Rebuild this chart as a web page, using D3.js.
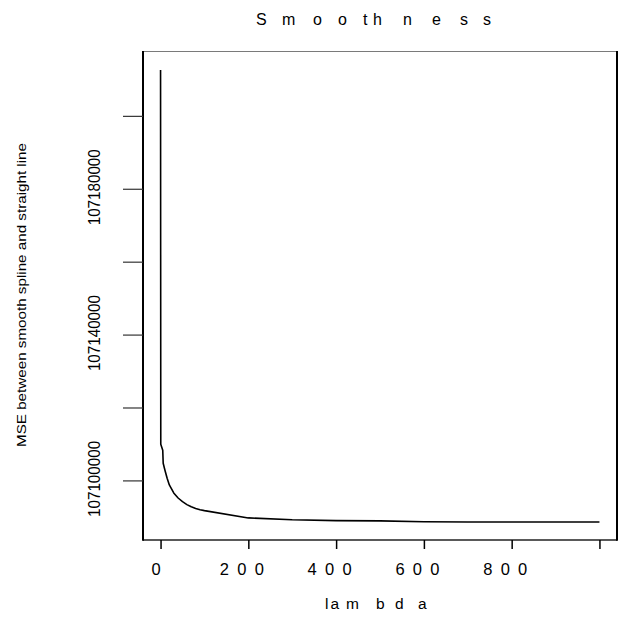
<!DOCTYPE html>
<html>
<head>
<meta charset="utf-8">
<script src="https://cdn.jsdelivr.net/npm/d3@7"></script>
<style>
  html, body { margin: 0; padding: 0; background: #fff; }
  svg { display: block; font-family: "Liberation Sans", Arial, Helvetica, sans-serif; }
</style>
</head>
<body>
<svg id="chart" width="632" height="619"></svg>
<script>
// Smoothing penalty lambda and the resulting MSE between the smoothing spline and a straight line
const lambda = [0, 0.5, 5, 6, 10, 15, 20, 30, 40, 50, 60, 70, 80, 90, 100,
                200, 300, 400, 500, 600, 700, 800, 900, 1000];
const mse = [107212560, 107109930, 107108290, 107104720, 107102800, 107100600,
             107098770, 107096570, 107095170, 107094160, 107093360, 107092760,
             107092320, 107091960, 107091710, 107089710, 107089190, 107088970,
             107088910, 107088670, 107088610, 107088610, 107088610, 107088610];

const xTickValues = [0, 200, 400, 600, 800, 1000];
const xTickLabels = ["0", "200", "400", "600", "800", ""];
const yTickValues = [107100000, 107120000, 107140000, 107160000, 107180000, 107200000];
const yTickLabels = ["107100000", "", "107140000", "", "107180000", ""];

const titleText = "Smoothness";
const xTitle = "lambda";
const yTitle = "MSE between smooth spline and straight line";

const svg = d3.select("#chart");
const plot = { left: 143, right: 617, top: 52, bottom: 540 };

// R-style 4% padding around the data range
function padded(ext) {
  const p = (ext[1] - ext[0]) * 0.04;
  return [ext[0] - p, ext[1] + p];
}

const x = d3.scaleLinear().domain(padded(d3.extent(lambda))).range([plot.left, plot.right]);
const y = d3.scaleLinear().domain(padded(d3.extent(mse))).range([plot.bottom, plot.top]);

// Plot frame
svg.append("line").attr("x1", plot.left).attr("x2", plot.right)
  .attr("y1", plot.top - 0.5).attr("y2", plot.top - 0.5)
  .attr("stroke", "#7a7a7a").attr("stroke-width", 1);
svg.append("line").attr("x1", plot.left).attr("x2", plot.right)
  .attr("y1", plot.bottom).attr("y2", plot.bottom)
  .attr("stroke", "#222").attr("stroke-width", 1.5);
svg.append("line").attr("x1", plot.left).attr("x2", plot.left)
  .attr("y1", plot.top - 1).attr("y2", plot.bottom + 0.75)
  .attr("stroke", "#000").attr("stroke-width", 2);
svg.append("line").attr("x1", plot.right).attr("x2", plot.right)
  .attr("y1", plot.top - 1).attr("y2", plot.bottom + 0.75)
  .attr("stroke", "#000").attr("stroke-width", 2);

// Bottom axis
const xAxis = d3.axisBottom(x)
  .tickValues(xTickValues)
  .tickSize(9)
  .tickSizeOuter(0)
  .tickFormat((d, i) => xTickLabels[i]);

const gx = svg.append("g").attr("transform", `translate(0,${plot.bottom})`).call(xAxis);
gx.select(".domain").remove();
gx.selectAll(".tick line").attr("stroke", "#000").attr("stroke-width", 1.5);
gx.selectAll(".tick text")
  .attr("font-size", 16.5)
  .attr("fill", "#000")
  .attr("text-anchor", "start")
  .attr("letter-spacing", "8.3px")
  .attr("dy", null)
  .attr("y", 35)
  .attr("x", (d, i) => xTickLabels[i].length > 1 ? -29 : -9.5);

// Left axis
const yAxis = d3.axisLeft(y)
  .tickValues(yTickValues)
  .tickSize(20)
  .tickSizeOuter(0)
  .tickFormat((d, i) => yTickLabels[i]);

const gy = svg.append("g").attr("transform", `translate(${plot.left},0)`).call(yAxis);
gy.select(".domain").remove();
gy.selectAll(".tick line").attr("stroke", "#333").attr("stroke-width", 1.2);
gy.selectAll(".tick text")
  .attr("font-size", 17)
  .attr("fill", "#000")
  .attr("text-anchor", "middle")
  .attr("dy", null)
  .attr("x", null)
  .attr("transform", "translate(-43,-2) rotate(-90)")
  .attr("y", 0)
  .attr("textLength", (d, i) => yTickLabels[i] ? 76 : null)
  .attr("lengthAdjust", "spacingAndGlyphs");

// Data line
const line = d3.line().x((d, i) => x(lambda[i])).y(d => y(d));
svg.append("path")
  .datum(mse)
  .attr("d", line)
  .attr("fill", "none")
  .attr("stroke", "#000")
  .attr("stroke-width", 1.6)
  .attr("stroke-linejoin", "round");

// Title, spread out letter by letter
const titleX = [256, 282, 313, 338, 363, 373, 403, 432, 460, 483];
svg.append("text")
  .attr("x", titleX.join(" "))
  .attr("y", 25)
  .attr("font-size", 16)
  .attr("fill", "#000")
  .text(titleText);

// x-axis title
const xTitleX = [325, 330.5, 346, 376, 395, 418];
svg.append("text")
  .attr("x", xTitleX.join(" "))
  .attr("y", 609)
  .attr("font-size", 15.5)
  .attr("fill", "#000")
  .text(xTitle);

// y-axis title
svg.append("text")
  .attr("transform", "translate(25.5,295) rotate(-90)")
  .attr("text-anchor", "middle")
  .attr("font-size", 13.5)
  .attr("fill", "#000")
  .attr("textLength", 304)
  .attr("lengthAdjust", "spacingAndGlyphs")
  .text(yTitle);
</script>
</body>
</html>
